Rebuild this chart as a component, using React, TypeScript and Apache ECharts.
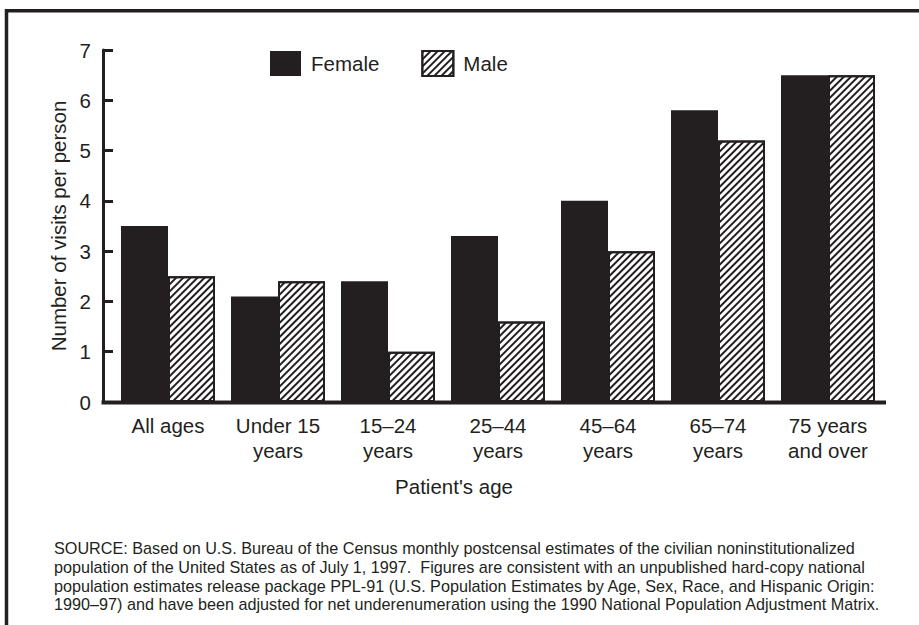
import React, { useEffect, useRef } from "react";
import * as echarts from "echarts";

const categories = [
  "All ages",
  "Under 15\nyears",
  "15–24\nyears",
  "25–44\nyears",
  "45–64\nyears",
  "65–74\nyears",
  "75 years\nand over",
];
const femaleValues = [3.5, 2.1, 2.4, 3.3, 4.0, 5.8, 6.5];
const maleValues = [2.5, 2.4, 1.0, 1.6, 3.0, 5.2, 6.5];
const yTicks = [0, 1, 2, 3, 4, 5, 6, 7];
const sourceLines = [
  "SOURCE: Based on U.S. Bureau of the Census monthly postcensal estimates of the civilian noninstitutionalized",
  "population of the United States as of July 1, 1997.  Figures are consistent with an unpublished hard-copy national",
  "population estimates release package PPL-91 (U.S. Population Estimates by Age, Sex, Race, and Hispanic Origin:",
  "1990–97) and have been adjusted for net underenumeration using the 1990 National Population Adjustment Matrix.",
];

const INK = "#231f20";
const FONT = "'Liberation Sans', Arial, Helvetica, sans-serif";

export default function App() {
  const ref = useRef<HTMLDivElement>(null);
  useEffect(() => {
    document.body.style.margin = "0";
    if (!ref.current) return;
    const chart = echarts.init(ref.current, null, { renderer: "svg" });
    chart.setOption({
      animation: false,
      backgroundColor: "#fff",
      textStyle: { fontFamily: FONT, color: INK },
      legend: {
        left: 270,
        top: 50,
        padding: 0,
        icon: "rect",
        itemWidth: 31,
        itemHeight: 25,
        itemGap: 42,
        textStyle: { fontSize: 20.5, color: INK, fontFamily: FONT, padding: [0, 0, 0, 5] },
        data: ["Female", "Male"],
      },
      grid: { left: 113, right: 36, top: 50, bottom: 223, containLabel: false },
      xAxis: {
        type: "category",
        data: categories,
        axisLine: { show: false },
        axisTick: { show: false },
        axisLabel: {
          fontSize: 20.5,
          lineHeight: 25,
          color: INK,
          fontFamily: FONT,
          margin: 11,
          interval: 0,
        },
        name: "Patient's age",
        nameLocation: "middle",
        nameGap: 74,
        nameTextStyle: { fontSize: 20.5, color: INK, fontFamily: FONT, padding: [0, 88, 0, 0] },
      },
      yAxis: {
        type: "value",
        min: yTicks[0],
        max: yTicks[yTicks.length - 1],
        interval: 1,
        offset: 10,
        axisLine: { show: true, lineStyle: { color: INK, width: 3 } },
        axisTick: { show: true, inside: true, length: 10, lineStyle: { color: INK, width: 3 } },
        splitLine: { show: false },
        axisLabel: { fontSize: 20.5, color: INK, fontFamily: FONT, margin: 12 },
        name: "Number of visits per person",
        nameLocation: "middle",
        nameGap: 31,
        nameRotate: 90,
        nameTextStyle: { fontSize: 20.5, color: INK, fontFamily: FONT },
      },
      series: [
        {
          name: "Female",
          type: "bar",
          data: femaleValues,
          barWidth: 47,
          barGap: "0%",
          itemStyle: { color: INK },
        },
        {
          name: "Male",
          type: "bar",
          data: maleValues,
          barWidth: 47,
          barGap: "0%",
          itemStyle: {
            color: "#fff",
            borderColor: INK,
            borderWidth: 2,
            decal: {
              symbol: "rect",
              symbolSize: 1,
              color: INK,
              dashArrayX: [1, 0],
              dashArrayY: [1.1, 2.7],
              rotation: -Math.PI / 4,
            },
          },
        },
      ],
      graphic: [
        {
          type: "polyline",
          z: 100,
          shape: { points: [[919, 10.8], [6.5, 10.8], [6.5, 625]] },
          style: { stroke: INK, lineWidth: 3.5, fill: null },
        },
        {
          type: "line",
          z: 100,
          shape: { x1: 101.5, y1: 402.5, x2: 886, y2: 402.5 },
          style: { stroke: INK, lineWidth: 4 },
        },
        {
          type: "text",
          left: 54,
          top: 539,
          style: {
            text: sourceLines.join("\n"),
            font: `16.2px ${FONT}`,
            lineHeight: 18.7,
            fill: INK,
          },
        },
      ],
    });
    return () => chart.dispose();
  }, []);
  return <div ref={ref} style={{ width: 919, height: 625 }} />;
}
